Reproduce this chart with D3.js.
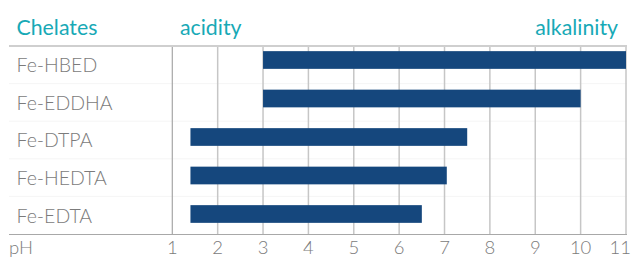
<!DOCTYPE html>
<html><head><meta charset="utf-8">
<script src="https://cdn.jsdelivr.net/npm/d3@7/dist/d3.min.js"></script>
<style>body{margin:0;background:#fff}svg{display:block}</style>
</head><body>
<script>
const chelates = ["Fe-HBED","Fe-EDDHA","Fe-DTPA","Fe-HEDTA","Fe-EDTA"];
const phStart = [3, 3, 1.4, 1.4, 1.4];
const phEnd = [11, 10, 7.5, 7.05, 6.5];
const tickValues = [1,2,3,4,5,6,7,8,9,10,11];

const W = 632, H = 257;
const svg = d3.select("body").append("svg").attr("width", W).attr("height", H);
const x = d3.scaleLinear().domain([1, 11]).range([172.3, 626]);
// rows (labels, separators) and bar positions
const yRow = d3.scaleBand().domain(chelates).range([46, 234]);
const yBar = d3.scalePoint().domain(chelates).range([60, 214]);
const teal = "#17a9b6", gray = "#7b7b7b", bar = "#15477d";

// faint row separators
svg.append("g").selectAll("line").data(chelates.slice(1)).join("line")
  .attr("x1", 9).attr("x2", 627)
  .attr("y1", d => yRow(d)).attr("y2", d => yRow(d))
  .attr("stroke", "#f5f5f5").attr("stroke-width", 1);

// gridlines
svg.append("g").selectAll("line").data(tickValues).join("line")
  .attr("x1", d => x(d)).attr("x2", d => x(d))
  .attr("y1", 46).attr("y2", 234)
  .attr("stroke", d => d === 1 ? "#a6a6a6" : "#c6c6c6").attr("stroke-width", d => d === 1 ? 1.2 : 1.5);

// header and bottom lines
svg.append("line").attr("x1", 9).attr("x2", 627).attr("y1", 46).attr("y2", 46)
  .attr("stroke", "#cfcfcf").attr("stroke-width", 2);
svg.append("line").attr("x1", 9).attr("x2", 627).attr("y1", 234.5).attr("y2", 234.5)
  .attr("stroke", "#a8a8a8").attr("stroke-width", 1.2);

// bars
svg.append("g").selectAll("rect").data(chelates).join("rect")
  .attr("x", (d,i) => x(phStart[i]))
  .attr("width", (d,i) => x(phEnd[i]) - x(phStart[i]))
  .attr("y", d => yBar(d) - 8.85)
  .attr("height", 17.7)
  .attr("fill", bar);

// row labels
svg.append("g").selectAll("text").data(chelates).join("text")
  .attr("x", 16.5).attr("y", d => yRow(d) + yRow.bandwidth()/2 + 7.3)
  .attr("font-family", "Lato, sans-serif").attr("font-weight", 300)
  .attr("font-size", 19.5).attr("fill", gray).text(d => d);

// tick labels
svg.append("g").selectAll("text").data(tickValues).join("text")
  .attr("x", (d,i) => i === tickValues.length - 1 ? 631 : x(d)).attr("y", 253.5)
  .attr("text-anchor", (d,i) => i === tickValues.length - 1 ? "end" : "middle")
  .attr("font-family", "Lato, sans-serif").attr("font-weight", 300)
  .attr("font-size", 18.5).attr("fill", gray).text(d => d);
svg.append("text").attr("x", 9).attr("y", 253.5)
  .attr("font-family", "Lato, sans-serif").attr("font-weight", 300)
  .attr("font-size", 18.5).attr("fill", gray).text("pH");

// header labels
const hdr = svg.append("g").attr("font-family", "Lato, sans-serif").attr("font-size", 21.3).attr("fill", teal);
hdr.append("text").attr("x", 16.5).attr("y", 34.5).text("Chelates");
hdr.append("text").attr("x", 180).attr("y", 34.5).text("acidity");
hdr.append("text").attr("x", 618).attr("y", 34.5).attr("text-anchor", "end").text("alkalinity");
</script>
</body></html>
